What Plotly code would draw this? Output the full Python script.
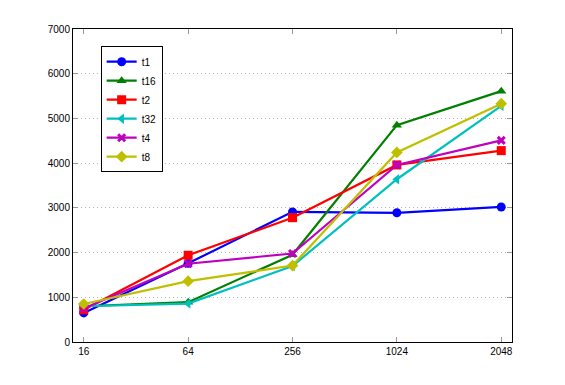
import plotly.graph_objects as go

categories = ["16", "64", "256", "1024", "2048"]
t1 = [650, 1760, 2910, 2890, 3020]
t16 = [800, 890, 1950, 4850, 5610]
t2 = [720, 1940, 2780, 3960, 4280]
t32 = [800, 860, 1700, 3640, 5280]
t4 = [750, 1750, 1980, 3960, 4510]
t8 = [850, 1360, 1710, 4240, 5330]

series = [
    ("t1", t1, "#0000FF", "circle"),
    ("t16", t16, "#007F00", "triangle-up"),
    ("t2", t2, "#FF0000", "square"),
    ("t32", t32, "#00BFBF", "triangle-left"),
    ("t4", t4, "#BF00BF", "x-thin-open"),
    ("t8", t8, "#BFBF00", "diamond"),
]

xpos = list(range(len(categories)))
fig = go.Figure()
for name, vals, col, sym in series:
    mk = dict(symbol=sym, size=9, color=col)
    if sym == "x-thin-open":
        mk = dict(symbol=sym, size=7, color=col, line=dict(width=3, color=col))
    fig.add_trace(go.Scatter(x=xpos, y=vals, name=name, mode="lines+markers",
                             line=dict(color=col, width=2.2), marker=mk))

font = dict(family="Liberation Sans, Arial, sans-serif", size=10, color="black")
fig.update_layout(
    width=549, height=369,
    margin=dict(l=65, r=45, t=21, b=35),
    paper_bgcolor="white", plot_bgcolor="white",
    font=font,
    showlegend=True,
    legend=dict(x=0.063, y=0.945, xanchor="left", yanchor="top",
                bordercolor="black", borderwidth=1, bgcolor="white",
                font=dict(size=10), tracegroupgap=0, itemwidth=30),
    xaxis=dict(tickmode="array", tickvals=xpos, ticktext=categories,
               range=[-0.103, 4.103], showgrid=False, zeroline=False,
               showline=True, linecolor="black", linewidth=1, mirror="ticks",
               ticks="inside", ticklen=5, tickcolor="#999999"),
    yaxis=dict(range=[0, 7000], dtick=1000, showgrid=True,
               gridcolor="#b4b4b4", griddash="1px,3px", gridwidth=1, zeroline=False,
               showline=True, linecolor="black", linewidth=1, mirror="ticks",
               ticks="inside", ticklen=5, tickcolor="#999999"),
)
fig.write_html("out.html")
